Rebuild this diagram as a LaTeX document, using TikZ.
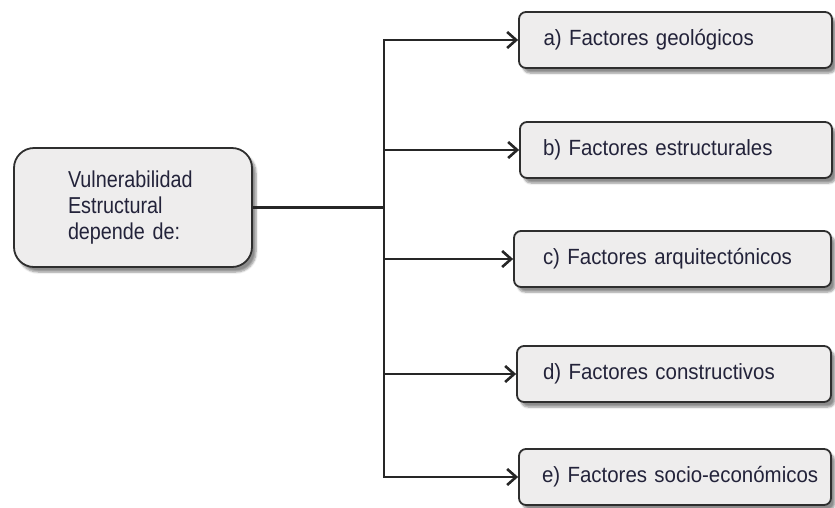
\documentclass[tikz,border=0pt]{standalone}
\usepackage{fontspec}
\setmainfont{Liberation Sans}
\newfontfamily\boxfont[FakeStretch=0.93]{Liberation Sans}
\newfontfamily\mainfont[FakeStretch=0.86]{Liberation Sans}
\usetikzlibrary{arrows.meta,shadows.blur}
\definecolor{boxfill}{HTML}{EEEDED}
\definecolor{boxline}{HTML}{2E2E2E}
\definecolor{txt}{HTML}{23233A}
\tikzset{
  fbox/.style={draw=boxline, line width=1.8pt, fill=boxfill, rounded corners=7pt,
    minimum height=56pt, align=left, inner xsep=0pt, text=txt,
    font=\boxfont\fontsize{22}{26}\selectfont,
    blur shadow={shadow xshift=4pt, shadow yshift=-5pt, shadow blur steps=6, shadow opacity=45}},
  mainbox/.style={fbox, rounded corners=20pt, minimum width=238pt, minimum height=119pt,
    font=\mainfont\fontsize{23}{26}\selectfont},
  conn/.style={line width=2.8pt, draw=black!85},
  arr/.style={conn, -{Straight Barb[length=9pt,width=16pt,line width=2.6pt]}}
}
\begin{document}
\begin{tikzpicture}[x=1pt,y=-1pt]
\useasboundingbox (0,0) rectangle (835,507);
\node[mainbox, text width=130pt] (L) at (133,207.5) {Vulnerabilidad\\Estructural\\depende de:};
\node[fbox, minimum width=313pt, text width=264pt] (a) at (675.5,40) {\mbox{a) Factores geológicos}};
\node[fbox, minimum width=312pt, text width=266pt] (b) at (676,150) {\mbox{b) Factores estructurales}};
\node[fbox, minimum width=317pt, text width=259pt] (c) at (672.5,259) {\mbox{c) Factores arquitectónicos}};
\node[fbox, minimum width=314pt, text width=262pt] (d) at (674,374) {\mbox{d) Factores constructivos}};
\node[fbox, minimum width=312pt, text width=266pt] (e) at (675,477) {\mbox{e) Factores socio-económicos}};
\coordinate (jm) at (384,207.5);
\coordinate (ja) at (384,40);
\coordinate (jb) at (384,150);
\coordinate (jc) at (384,259);
\coordinate (jd) at (384,374);
\coordinate (je) at (384,477);
\draw[conn] (L.east) -- (jm);
\draw[conn, line cap=rect] (ja) -- (je);
\draw[arr] (ja) -- (a.west);
\draw[arr] (jb) -- (b.west);
\draw[arr] (jc) -- (c.west);
\draw[arr] (jd) -- (d.west);
\draw[arr] (je) -- (e.west);
\end{tikzpicture}
\end{document}
